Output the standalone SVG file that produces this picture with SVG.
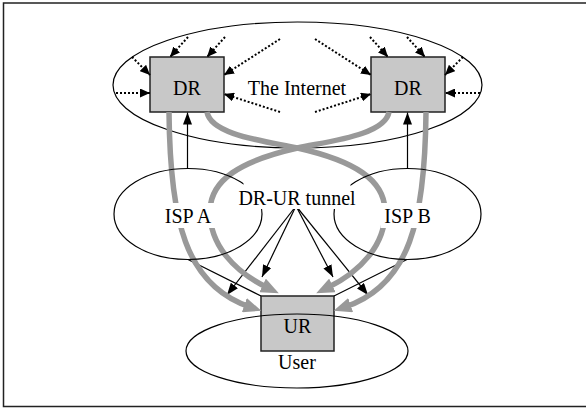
<svg xmlns="http://www.w3.org/2000/svg" width="586" height="410" viewBox="0 0 586 410">
<style>
text{font-family:"Liberation Serif","Times New Roman",serif;font-size:20px;fill:#000;text-anchor:middle}
.ell{fill:none;stroke:#000;stroke-width:1.2}
.box{fill:#c8c8c8;stroke:#222;stroke-width:1.5}
.bg{fill:#fff;stroke:none}
.dot{fill:none;stroke:#000;stroke-width:2;stroke-dasharray:2 2}
.thin{fill:none;stroke:#000;stroke-width:1.2}
.tun{fill:none;stroke:#999;stroke-width:5.5}
</style>
<defs>
<marker id="hd" markerUnits="userSpaceOnUse" markerWidth="10" markerHeight="9" refX="10" refY="4.5" orient="auto"><path d="M0,0 L10,4.5 L0,9 z" fill="#000"/></marker>
<marker id="ht" markerUnits="userSpaceOnUse" markerWidth="12" markerHeight="9" refX="12" refY="4.5" orient="auto"><path d="M0,0 L12,4.5 L0,9 z" fill="#000"/></marker>
<marker id="hg" markerUnits="userSpaceOnUse" markerWidth="18" markerHeight="15" refX="6" refY="7.5" orient="auto"><path d="M0,0 L18,7.5 L0,15 z" fill="#999"/></marker>
</defs>
<rect x="3.5" y="3" width="600" height="403.5" fill="#fff" stroke="#222" stroke-width="1.5"/>
<g id="internet">
<ellipse class="ell" cx="297.5" cy="85" rx="184.5" ry="63"/>
<text x="297" y="95">The Internet</text>
</g>
<g id="dr-left">
<rect class="box" x="150" y="57" width="74" height="55"/>
<text x="187" y="95">DR</text>
</g>
<g id="dr-right">
<rect class="box" x="371" y="57" width="74" height="55"/>
<text x="408" y="95">DR</text>
</g>
<g id="ur">
<rect class="box" x="261" y="296" width="73" height="55"/>
<text x="297.5" y="333">UR</text>
</g>
<g id="user">
<ellipse class="ell" cx="297" cy="351" rx="111" ry="37"/>
<text x="297" y="369">User</text>
</g>
<g id="connectors">
<path class="dot" d="M116,93 L150,93" marker-end="url(#hd)"/>
<path class="dot" d="M132,57 L150,75" marker-end="url(#hd)"/>
<path class="dot" d="M188,37 L170,57" marker-end="url(#hd)"/>
<path class="dot" d="M225,37 L207,57" marker-end="url(#hd)"/>
<path class="dot" d="M280,39 L224,75" marker-end="url(#hd)"/>
<path class="dot" d="M280,112 L224,94" marker-end="url(#hd)"/>
<path class="dot" d="M480,93 L445,93" marker-end="url(#hd)"/>
<path class="dot" d="M463,57 L445,75" marker-end="url(#hd)"/>
<path class="dot" d="M407,37 L425,57" marker-end="url(#hd)"/>
<path class="dot" d="M370,37 L388,57" marker-end="url(#hd)"/>
<path class="dot" d="M315,39 L371,75" marker-end="url(#hd)"/>
<path class="dot" d="M315,112 L371,94" marker-end="url(#hd)"/>
<path class="thin" d="M187.5,168.5 L187.5,112.5" marker-end="url(#ht)"/>
<path class="thin" d="M407.5,168.5 L407.5,112.5" marker-end="url(#ht)"/>
<path class="thin" d="M188,259.5 L261,296"/>
<path class="thin" d="M407,259.5 L334,296"/>
<path class="thin" d="M296,206 L227,295" marker-end="url(#ht)"/>
<path class="thin" d="M296,206 L262,277" marker-end="url(#ht)"/>
<path class="thin" d="M296,206 L333,277" marker-end="url(#ht)"/>
<path class="thin" d="M296,206 L368,295" marker-end="url(#ht)"/>
<path class="tun" d="M169,112 C170,220 185,285 250,307" marker-end="url(#hg)"/>
<path class="tun" d="M426,112 C425,220 410,285 345,307" marker-end="url(#hg)"/>
<path class="tun" d="M389,112 C385,135 330,141 297.5,148 C240,161 211,180 210,210 C209,245 235,272 268,288" marker-end="url(#hg)"/>
<path class="tun" d="M207,112 C211,135 265,141 297.5,148 C355,161 384,180 385,210 C386,245 360,272 327,288" marker-end="url(#hg)"/>
</g>
<g id="isp-a">
<ellipse class="ell" cx="188" cy="214" rx="74" ry="45.5"/>
<rect class="bg" x="161" y="203" width="54" height="25"/>
<text x="188" y="223">ISP A</text>
</g>
<g id="isp-b">
<ellipse class="ell" cx="407.5" cy="214" rx="73.5" ry="45.5"/>
<rect class="bg" x="380.5" y="203" width="54" height="25"/>
<text x="407.5" y="223">ISP B</text>
</g>
<g id="tunnel-label">
<rect class="bg" x="243.5" y="180" width="107" height="29"/>
<text x="297" y="205">DR-UR tunnel</text>
</g>
</svg>
